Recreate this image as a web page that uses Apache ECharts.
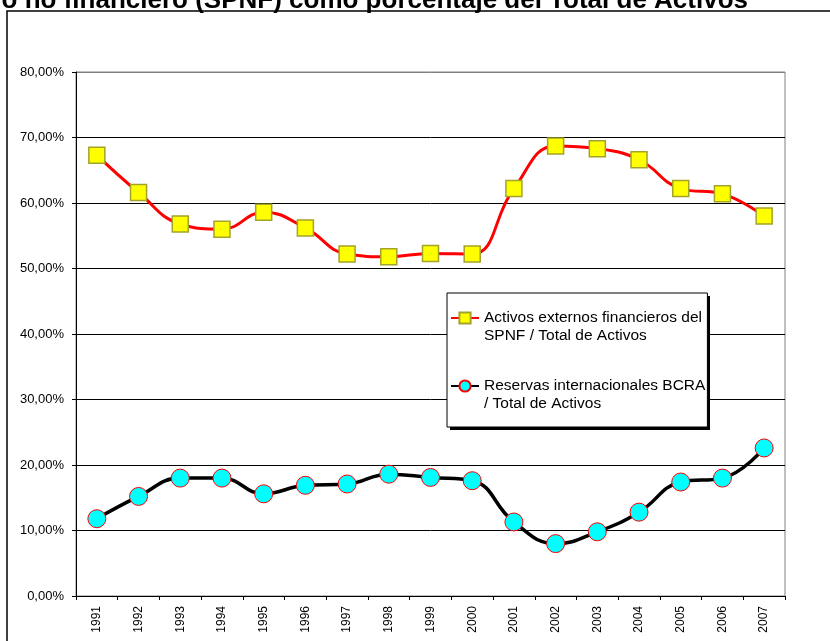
<!DOCTYPE html>
<html>
<head>
<meta charset="utf-8">
<script src="https://cdn.jsdelivr.net/npm/echarts@6/dist/echarts.min.js"></script>
<style>
html,body{margin:0;padding:0;background:#fff;}
#chart{width:830px;height:641px;}
</style>
</head>
<body>
<div id="chart"></div>
<script>
var years = ['1991','1992','1993','1994','1995','1996','1997','1998','1999','2000','2001','2002','2003','2004','2005','2006','2007'];
var activosExternos = [67.3, 61.6, 56.8, 56.0, 58.6, 56.2, 52.2, 51.8, 52.3, 52.2, 62.2, 68.7, 68.3, 66.6, 62.2, 61.4, 58.0];
var reservasBCRA = [11.8, 15.2, 18.0, 18.0, 15.6, 16.9, 17.1, 18.6, 18.1, 17.6, 11.3, 8.0, 9.8, 12.8, 17.4, 18.0, 22.6];
var yTicks = [0, 10, 20, 30, 40, 50, 60, 70, 80];
var seriesNames = ['Activos externos financieros del\nSPNF / Total de Activos', 'Reservas internacionales BCRA\n/ Total de Activos'];
var titleText = 'Activos externos del sector privado no financiero (SPNF) como porcentaje del Total de Activos';

var FONT = "'Liberation Sans', Arial, sans-serif";
var chart = echarts.init(document.getElementById('chart'), null, {renderer: 'canvas'});
var splitColors = yTicks.map(function (v, i) { return i === yTicks.length - 1 ? '#808080' : '#000'; });

chart.setOption({
  animation: false,
  backgroundColor: '#fff',
  textStyle: {fontFamily: FONT},
  graphic: [
    {type: 'rect', silent: true, z: 0, shape: {x: 7, y: 11, width: 900, height: 700}, style: {fill: 'none', stroke: '#000', lineWidth: 1.5}},
    {type: 'text', silent: true, z: 0, style: {text: titleText, x: 748, y: 14, align: 'right', verticalAlign: 'bottom', font: 'bold 26px ' + FONT, fill: '#000'}},
    {type: 'rect', silent: true, z: 1, shape: {x: 450, y: 296, width: 260, height: 134}, style: {fill: '#000'}}
  ],
  grid: {left: 76, right: 45, top: 72, bottom: 45, show: true, borderColor: '#808080', borderWidth: 1, backgroundColor: 'transparent'},
  legend: {
    orient: 'vertical', left: 447, top: 293,
    z: 5,
    backgroundColor: '#fff', borderColor: '#000', borderWidth: 1,
    padding: [-2, 2, 14, 3],
    itemGap: 14, itemWidth: 28, itemHeight: 14,
    textStyle: {fontSize: 15.5, color: '#000', fontFamily: FONT, lineHeight: 18},
    formatter: function (name) { return '\n' + name; },
    data: seriesNames
  },
  xAxis: {
    type: 'category', data: years, boundaryGap: true,
    axisLine: {lineStyle: {color: '#000', width: 1}},
    axisTick: {show: true, length: 4, lineStyle: {color: '#000'}},
    axisLabel: {rotate: 90, fontSize: 12, color: '#000', margin: 10, fontFamily: FONT, interval: 0}
  },
  yAxis: {
    type: 'value', min: 0, max: 80, interval: 10,
    axisLine: {show: true, lineStyle: {color: '#000', width: 1}},
    axisTick: {show: true, length: 4, lineStyle: {color: '#000'}},
    axisLabel: {fontSize: 13, color: '#000', margin: 12, fontFamily: FONT,
      formatter: function (v) { return v.toFixed(2).replace('.', ',') + '%'; }},
    splitLine: {show: true, lineStyle: {color: splitColors, width: 1}}
  },
  series: [
    {
      name: seriesNames[0], type: 'line', data: activosExternos, smooth: 0.45,
      symbol: 'rect', symbolSize: 16,
      lineStyle: {color: '#ff0000', width: 3},
      itemStyle: {color: '#ffff00', borderColor: '#a3a32a', borderWidth: 1.5},
      z: 3
    },
    {
      name: seriesNames[1], type: 'line', data: reservasBCRA, smooth: 0.45,
      symbol: 'circle', symbolSize: 18,
      lineStyle: {color: '#000', width: 3.5},
      itemStyle: {color: '#00ffff', borderColor: '#ff0000', borderWidth: 1},
      z: 3
    }
  ]
});
</script>
</body>
</html>
